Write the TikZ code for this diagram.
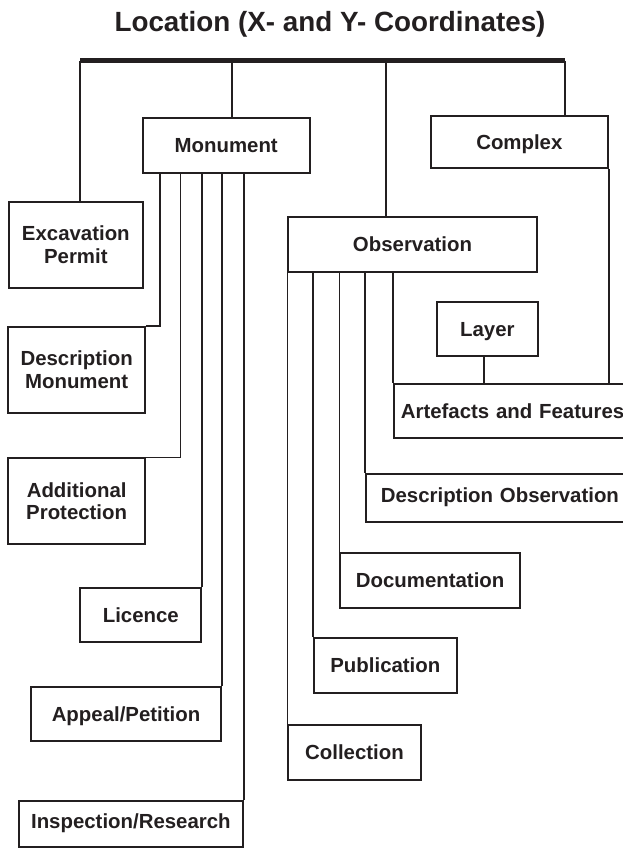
\documentclass[tikz,border=0pt]{standalone}
\usepackage{fontspec}
\setmainfont{Liberation Sans}
\usetikzlibrary{calc}
\definecolor{ink}{HTML}{231F20}
\begin{document}
\begin{tikzpicture}[x=1pt,y=-1pt,
  box/.style={draw=ink, line width=1.8pt, inner sep=0pt, text=ink, align=center,
    font=\bfseries\fontsize{20.4}{22.5}\selectfont},
  one/.style={text height=14.6pt, text depth=0pt},
  conn/.style={draw=ink, line width=1.8pt},
  bar/.style={draw=ink, line width=5pt},
]
\useasboundingbox (0,0) rectangle (623,848);
\clip (0,0) rectangle (623,848);

% title
\node[anchor=base, text=ink, font=\bfseries\fontsize{27.8}{30}\selectfont, inner sep=0pt] (title) at (330,31.7) {Location (X- and Y- Coordinates)};

% top bar
\coordinate (barL) at (80,60.8);
\coordinate (barR) at (565,60.8);

% boxes
\node[box, one, minimum width=167pt, minimum height=55pt] (mon) at (226.2,145.2) {Monument};
\node[box, one, minimum width=176.7pt, minimum height=52.3pt] (cpx) at (519.35,142.15) {Complex};
\node[box, minimum width=133.7pt, minimum height=86pt] (exc) at (75.85,244.7) {Excavation\\Permit};
\node[box, one, minimum width=248.4pt, minimum height=55pt] (obs) at (412.5,244.2) {Observation};
\node[box, minimum width=136.7pt, minimum height=86pt] (desm) at (76.65,369.7) {Description\\Monument};
\node[box, minimum width=136.7pt, minimum height=86pt] (addp) at (76.65,501.3) {Additional\\Protection};
\node[box, one, minimum width=121pt, minimum height=54.6pt] (lic) at (140.8,615) {Licence};
\node[box, one, minimum width=190pt, minimum height=54.3pt] (app) at (126,714.15) {Appeal/Petition};
\node[box, one, text depth=7pt, minimum width=223.7pt, minimum height=46pt] (insp) at (130.85,824.3) {Inspection/Research};
\node[box, one, minimum width=100.7pt, minimum height=54.3pt] (layer) at (487.35,329.15) {Layer};
\node[box, one, anchor=north west, inner xsep=6.7pt, text width=233.3pt, align=left, minimum height=54.3pt] (art) at (393.3,383) {Artefacts and Features};
\node[box, one, text depth=5pt, anchor=north west, inner xsep=14.7pt, text width=245.3pt, align=left, minimum height=48pt] (desco) at (365.3,472.7) {Description Observation};
\node[box, one, minimum width=179.7pt, minimum height=55.3pt] (doc) at (430.15,580.35) {Documentation};
\node[box, one, minimum width=142.7pt, minimum height=54.4pt] (pub) at (385.35,665.5) {Publication};
\node[box, one, minimum width=132.4pt, minimum height=55pt] (col) at (354.5,752.5) {Collection};

% helper coordinates for off-centre attachment points
\coordinate (monTop) at ($(mon.north west)+(90,0)$);
\coordinate (obsTop) at ($(obs.north west)+(98.7,0)$);
\coordinate (monA) at ($(mon.south west)+(18.3,0)$);
\coordinate (monB) at ($(mon.south west)+(38.6,0)$);
\coordinate (layBot) at ($(layer.south)+(-3.3,0)$);

% bar and its drops
\draw[bar] (barL) -- (barR);
\draw[conn] (barL) -- (barL |- exc.north);
\draw[conn] (monTop) -- (monTop |- barL);
\draw[conn] (obsTop) -- (obsTop |- barL);
\draw[conn] (barR) -- (barR |- cpx.north);

% monument children
\draw[conn] (monA) |- (desm.north east);
\draw[conn] (monB) |- (addp.north east);
\draw[conn] (lic.north east |- mon.south) -- (lic.north east);
\draw[conn] (app.north east |- mon.south) -- (app.north east);
\draw[conn] (insp.north east |- mon.south) -- (insp.north east);

% observation children
\draw[conn] (col.north west |- obs.south) -- (col.north west);
\draw[conn] (pub.north west |- obs.south) -- (pub.north west);
\draw[conn] (doc.north west |- obs.south) -- (doc.north west);
\draw[conn] (desco.north west |- obs.south) -- (desco.north west);
\draw[conn] (art.north west |- obs.south) -- (art.north west);

% layer and complex to artefacts
\draw[conn] (layBot) -- (layBot |- art.north);
\draw[conn] (cpx.south east) -- (cpx.south east |- art.north);
\end{tikzpicture}
\end{document}
